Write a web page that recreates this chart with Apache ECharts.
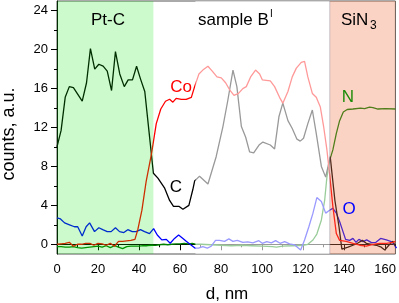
<!DOCTYPE html>
<html>
<head>
<meta charset="utf-8">
<script src="https://cdn.jsdelivr.net/npm/echarts@6/dist/echarts.min.js"></script>
<style>
html,body{margin:0;padding:0;background:#fff;}
#chart{width:399px;height:303px;}
</style>
</head>
<body>
<div id="chart"></div>
<script>
// ---- data ----
const xMajorTicks = [0, 20, 40, 60, 80, 100, 120, 140, 160];
const xMinorTicks = [10, 30, 50, 70, 90, 110, 130, 150];
const yMajorTicks = [0, 4, 8, 12, 16, 20, 24];
const yMinorTicks = [2, 6, 10, 14, 18, 22];

// region boundaries in nm: Pt-C, faded middle of sample, SiN3
const regionFrom = [0, 67.5, 133];
const regionTo   = [47, 133, 165];

const cX = [0,2,4,6,8,12.3,14.4,16.3,18.4,20.4,22.5,24.5,26.6,28.5,30.6,32.8,34.7,36.8,38.8,40.7,42.8,44.8,47,49.2,52.4,54.9,56.8,59.4,61.4,64.3,66.2,67.1,69.5,73.6,77.6,80.9,83.3,85.8,87.7,89.9,92,93.9,95.9,98.5,100.4,104,106.1,108.2,110.1,112.6,114.7,117,118.6,120.2,122.3,124.5,126.4,128.9,131,133.2,135.5,137.5,138.9,141.9,144.3,146.5,148.9,150.8,153.3,155.7,158.1,159.8,162.2,163.8,165];
const cY = [10.0,11.7,15.1,16.2,16.1,14.7,16.6,20.1,18.0,18.5,18.3,17.8,15.8,19.8,17.5,16.2,16.9,16.9,18.3,17.0,15.7,11.7,7.3,6.8,5.8,4.5,3.9,3.9,3.6,4.0,5.6,6.5,7.0,6.2,9.0,12.1,14.8,17.9,16.2,12.1,11.0,9.5,9.4,10.2,10.5,10.2,9.8,13.1,14.5,12.7,11.9,10.8,10.6,10.9,12.4,13.8,11.4,8.0,6.9,9.0,4.5,1.8,-0.5,-0.3,-0.1,0.1,0.4,0.1,0.0,-0.1,-0.3,-0.6,0.0,0.3,-0.2];

const coX = [0,2,4,6,8,10,12,14,16,18,20,22,24,26,28,30,32,34,36,38,39.4,41.4,43.5,46,48.4,50.6,52.9,54.9,56.5,58.1,60.6,63,65.5,67.1,69.2,71.1,73.6,75.7,78,80.1,82.2,84.1,86.3,88.5,90.6,92.3,94.4,96.8,98.8,100.1,104,106.1,108.5,110.1,112.6,114.7,116.7,119.1,120.7,122.3,124.5,126.4,128.4,130,131.6,132.9,134.5,136.2,137.8,141,144.3,147.6,150.8,154,157.3,160.6,163.8,165];
const coY = [0.0,0.05,0.1,0.2,-0.2,0.0,0.0,0.1,0.1,-0.1,0.1,0.05,-0.1,0.1,-0.2,0.3,0.3,0.35,0.4,0.5,1.5,3.5,6.5,9.2,12.4,13.9,14.7,14.9,14.6,15.0,14.9,14.9,15.1,16.2,17.5,17.9,18.3,17.8,17.2,17.1,16.6,15.9,15.3,15.5,16.0,16.2,17.2,17.9,17.5,16.9,16.8,16.2,15.1,14.5,15.7,17.2,18.1,18.7,18.8,17.2,15.5,15.1,14.1,12.1,9.7,7.2,3.9,1.1,0.4,0.3,0.1,-0.1,-0.2,0.0,0.1,0.1,0.2,0.3];

const oX = [0,1.7,3.7,6.1,8.5,10.1,12.3,14.2,15.9,18.3,20.4,22.3,24.5,26.4,28.5,30.5,32.6,34.5,36.7,38.6,40.7,42.7,45.1,47.1,48.9,51.1,53.3,55.2,57.3,59.3,61.4,63,65.5,67.4,69,71.1,73.3,75.2,77.3,79.3,81.7,83.8,85.8,87.9,90.6,93,95.5,98.4,100.1,102.3,104.5,106.6,108.8,111,113.4,115.9,118.8,120.7,122.8,124.8,126.7,128.9,131,132.9,134.5,136.2,138.1,140.7,142.7,144.3,145.8,147.2,149.2,151,153.3,155.5,157.8,160.6,163,164.6,165.5];
const oY = [2.7,2.6,2.2,2.0,1.8,1.8,0.85,1.8,2.2,1.3,1.7,1.5,1.3,1.3,1.7,1.3,1.2,1.5,1.3,1.3,1.5,1.3,1.1,1.6,0.95,0.45,0.5,0.1,0.6,0.95,0.6,0.3,-0.1,-0.4,-0.4,-0.25,-0.4,-0.2,0.4,0.4,0.3,0.55,0.3,0.4,0.2,0.25,0.15,0.37,0.1,0.27,0.15,0.37,0.1,0.27,0.05,-0.07,-0.6,0.44,1.8,3.2,4.8,4.4,3.2,3.5,3.7,3.2,2.15,0.5,0.4,0.6,0.2,0.5,0.27,0.45,0.17,0.2,0.6,0.44,0.27,-0.07,-0.4];

const nX = [0,2,4,6,8,10,12,14,16,18,20,22,24,26,28,30,32,34,36,38,40,42,44,46,48,50,52,54,56,58,60,62,64,66,68,70,75,80,85,90,95,100,105,107,110,115,120,122.3,124.8,126.7,128.9,130.5,131.6,132.9,134.5,136.2,137.8,139.6,141.5,144.3,148,150,152.4,154,156.5,160,165];
const nY = [-0.25,-0.25,-0.3,-0.3,-0.25,-0.35,-0.4,-0.35,-0.3,-0.25,-0.2,-0.3,-0.15,-0.35,-0.15,-0.3,-0.45,-0.25,-0.2,-0.2,-0.2,-0.15,-0.15,-0.1,-0.1,-0.05,0.0,-0.05,0.0,0.05,0.05,0.1,0.05,0.1,0.0,0.0,-0.05,-0.1,-0.15,-0.1,-0.15,-0.2,-0.25,-0.3,-0.2,-0.15,-0.1,0.0,0.44,1.05,2.5,4.5,6.9,8.6,9.7,11.4,12.7,13.6,13.85,13.9,14.0,13.95,14.1,14.05,13.9,13.95,13.9];

function zip(xs, ys){ return xs.map((x,i)=>[x, ys[i]]); }

const FONT = '"Liberation Sans", Arial, sans-serif';
const overlayFills = ['rgba(0,230,0,0.2)', 'rgba(255,255,255,0.6)', 'rgba(244,122,80,0.33)'];

const chart = echarts.init(document.getElementById('chart'), null, {renderer:'canvas'});

const axisCommon = {
  type: 'value', min: 0, max: 165, splitLine: {show:false}
};

function lineSeries(name, xs, ys, color){
  return {
    name, type:'line', data: zip(xs, ys), showSymbol:false, symbol:'none',
    lineStyle:{color, width:1.3}, itemStyle:{color}, z:2, silent:true
  };
}

chart.setOption({
  animation:false,
  backgroundColor:'#fff',
  grid:{left:57, right:1, top:1, bottom:49, show:true, borderColor:'#555', borderWidth:1},
  xAxis:[
    Object.assign({}, axisCommon, {
      position:'bottom',
      axisLine:{show:true, lineStyle:{color:'#000', width:1}},
      axisTick:{show:true, customValues:xMajorTicks, length:6, inside:false, lineStyle:{color:'#000'}},
      axisLabel:{show:true, customValues:xMajorTicks, fontSize:13, color:'#000', fontFamily:FONT, margin:9}
    }),
    Object.assign({}, axisCommon, {
      position:'bottom', offset:0,
      axisLine:{show:false},
      axisTick:{show:true, customValues:xMinorTicks, length:3, lineStyle:{color:'#000'}},
      axisLabel:{show:false}
    })
  ],
  yAxis:[
    {
      type:'value', min:-1, max:25, position:'left', splitLine:{show:false},
      axisLine:{show:true, lineStyle:{color:'#000', width:1}},
      axisTick:{show:true, customValues:yMajorTicks, length:6, lineStyle:{color:'#000'}},
      axisLabel:{show:true, customValues:yMajorTicks, fontSize:13, color:'#000', fontFamily:FONT, margin:9}
    },
    {
      type:'value', min:-1, max:25, position:'left', offset:0, splitLine:{show:false},
      axisLine:{show:false},
      axisTick:{show:true, customValues:yMinorTicks, length:3, lineStyle:{color:'#000'}},
      axisLabel:{show:false}
    }
  ],
  series:[
    lineSeries('N', nX, nY, '#008000'),
    lineSeries('O', oX, oY, '#0000ff'),
    lineSeries('C', cX, cY, '#000000'),
    lineSeries('Co', coX, coY, '#ff0000'),
    {
      type:'custom', z:3, silent:true,
      data: regionFrom.map((f,i)=>[f, regionTo[i]]),
      encode:{x:[0,1]},
      clip:false,
      renderItem:function(params, api){
        const p0 = api.coord([api.value(0), 25]);
        const p1 = api.coord([api.value(1), -1]);
        const rect = {type:'rect', shape:{x:p0[0], y:p0[1], width:p1[0]-p0[0], height:p1[1]-p0[1]},
          style:{fill:overlayFills[params.dataIndex]}};
        if(params.dataIndex === 2){
          return {type:'group', children:[rect,
            {type:'line', shape:{x1:p0[0], y1:p0[1], x2:p0[0], y2:p1[1]}, style:{stroke:'rgba(150,150,170,0.5)', lineWidth:1}}]};
        }
        return rect;
      }
    }
  ],
  graphic:[
    {type:'text', z:100, x:108, y:20, style:{text:'Pt-C', font:'17px '+FONT, fill:'#000', textAlign:'center', textVerticalAlign:'middle'}},
    {type:'text', z:100, x:198, y:20, style:{text:'sample B', font:'17px '+FONT, fill:'#000', textAlign:'left', textVerticalAlign:'middle'}},
    {type:'text', z:100, x:270, y:14, style:{text:'I', font:'10px '+FONT, fill:'#000', textAlign:'left', textVerticalAlign:'middle'}},
    {type:'text', z:100, x:341, y:20, style:{text:'SiN', font:'17px '+FONT, fill:'#000', textAlign:'left', textVerticalAlign:'middle'}},
    {type:'text', z:100, x:370, y:26, style:{text:'3', font:'12px '+FONT, fill:'#000', textAlign:'left', textVerticalAlign:'middle'}},
    {type:'text', z:100, x:181, y:87, style:{text:'Co', font:'17px '+FONT, fill:'#ff0000', textAlign:'center', textVerticalAlign:'middle'}},
    {type:'text', z:100, x:176, y:187, style:{text:'C', font:'17px '+FONT, fill:'#000', textAlign:'center', textVerticalAlign:'middle'}},
    {type:'text', z:100, x:348, y:97, style:{text:'N', font:'17px '+FONT, fill:'#1e8c0a', textAlign:'center', textVerticalAlign:'middle'}},
    {type:'text', z:100, x:349, y:209, style:{text:'O', font:'17px '+FONT, fill:'#0000ff', textAlign:'center', textVerticalAlign:'middle'}},
    {type:'text', z:100, x:227, y:294, style:{text:'d, nm', font:'17px '+FONT, fill:'#000', textAlign:'center', textVerticalAlign:'middle'}},
    {type:'text', z:100, x:9, y:134, rotation:Math.PI/2, style:{text:'counts, a.u.', font:'18px '+FONT, fill:'#000', textAlign:'center', textVerticalAlign:'middle'}}
  ]
});
</script>
</body>
</html>
